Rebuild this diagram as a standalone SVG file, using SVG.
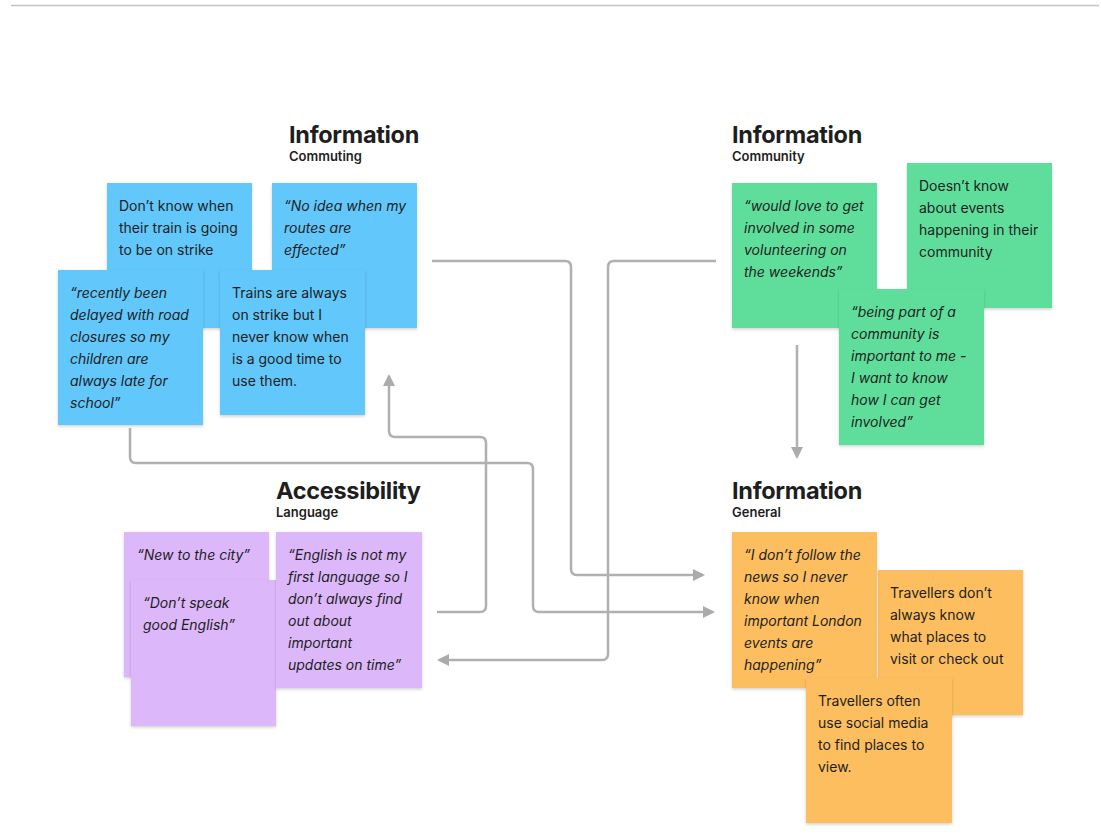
<svg xmlns="http://www.w3.org/2000/svg" width="1101" height="837" viewBox="0 0 1101 837">
<defs>
<filter id="sh" x="-10%" y="-10%" width="120%" height="125%">
<feDropShadow dx="0" dy="1.5" stdDeviation="1.5" flood-color="#000" flood-opacity="0.18"/>
</filter>
<marker id="ah" viewBox="0 0 12 12" refX="10" refY="6" markerWidth="12" markerHeight="12" markerUnits="userSpaceOnUse" orient="auto">
<path d="M0,0 L12,6 L0,12 Z" fill="#ABABAB"/>
</marker>
</defs>
<style>
.t{font-family:Inter,"Noto Sans","Liberation Sans",sans-serif;font-size:14px;fill:#1E1E1E}
.i{font-style:italic}
.h{font-family:Inter,"Liberation Sans",sans-serif;font-size:23.5px;font-weight:700;fill:#1E1E1E;letter-spacing:-0.3px}
.s{font-family:Inter,"Liberation Sans",sans-serif;font-size:13px;font-weight:600;fill:#1E1E1E}
.blue{fill:#62C7FA;filter:url(#sh)}
.green{fill:#5EDE9B;filter:url(#sh)}
.purple{fill:#DCB8FA;filter:url(#sh)}
.orange{fill:#FDBE5E;filter:url(#sh)}
.c{fill:none;stroke:#B0B0B0;stroke-width:2.5;stroke-linejoin:round}
</style>
<rect width="1101" height="837" fill="#FFFFFF"/>
<line x1="11" y1="5.5" x2="1099" y2="5.5" stroke="#C4C4C4" stroke-width="1.5"/>

<g id="titles">
<text class="h" x="289" y="143">Information</text>
<text class="s" x="289" y="161">Commuting</text>
<text class="h" x="732" y="143">Information</text>
<text class="s" x="732" y="161">Community</text>
<text class="h" x="276" y="499">Accessibility</text>
<text class="s" x="276" y="517">Language</text>
<text class="h" x="732" y="499">Information</text>
<text class="s" x="732" y="517">General</text>
</g>

<g id="connectors">
<path class="c" d="M432,261 H565 Q571,261 571,267 V569 Q571,575 577,575 H703" marker-end="url(#ah)"/>
<path class="c" d="M716,261 H614 Q608,261 608,267 V654 Q608,660 602,660 H439" marker-end="url(#ah)"/>
<path class="c" d="M130,428 V457 Q130,463 136,463 H527 Q533,463 533,469 V606 Q533,612 539,612 H713" marker-end="url(#ah)"/>
<path class="c" d="M437,612 H480 Q486,612 486,606 V443 Q486,437 480,437 H395 Q389,437 389,431 V376" marker-end="url(#ah)"/>
<path class="c" d="M797,345 V457" marker-end="url(#ah)"/>
</g>

<g id="note-a"><rect class="blue" x="107" y="183" width="145" height="145"/>
<text class="t" x="119" y="211">Don’t know when</text><text class="t" x="119" y="233">their train is going</text><text class="t" x="119" y="255">to be on strike</text></g>
<g id="note-b"><rect class="blue" x="272" y="183" width="145" height="145"/>
<text class="t i" x="284" y="211">“No idea when my</text><text class="t i" x="284" y="233">routes are</text><text class="t i" x="284" y="255">effected”</text></g>
<g id="note-c"><rect class="blue" x="58" y="270" width="145" height="155"/>
<text class="t i" x="70" y="298">“recently been</text><text class="t i" x="70" y="320">delayed with road</text><text class="t i" x="70" y="342">closures so my</text><text class="t i" x="70" y="364">children are</text><text class="t i" x="70" y="386">always late for</text><text class="t i" x="70" y="408">school”</text></g>
<g id="note-d"><rect class="blue" x="220" y="270" width="145" height="145"/>
<text class="t" x="232" y="298">Trains are always</text><text class="t" x="232" y="320">on strike but I</text><text class="t" x="232" y="342">never know when</text><text class="t" x="232" y="364">is a good time to</text><text class="t" x="232" y="386">use them.</text></g>

<g id="note-e"><rect class="green" x="732" y="183" width="145" height="145"/>
<text class="t i" x="744" y="211">“would love to get</text><text class="t i" x="744" y="233">involved in some</text><text class="t i" x="744" y="255">volunteering on</text><text class="t i" x="744" y="277">the weekends”</text></g>
<g id="note-f"><rect class="green" x="907" y="163" width="145" height="145"/>
<text class="t" x="919" y="191">Doesn’t know</text><text class="t" x="919" y="213">about events</text><text class="t" x="919" y="235">happening in their</text><text class="t" x="919" y="257">community</text></g>
<g id="note-g"><rect class="green" x="839" y="289" width="145" height="156"/>
<text class="t i" x="851" y="317">“being part of a</text><text class="t i" x="851" y="339">community is</text><text class="t i" x="851" y="361">important to me -</text><text class="t i" x="851" y="383">I want to know</text><text class="t i" x="851" y="405">how I can get</text><text class="t i" x="851" y="427">involved”</text></g>

<g id="note-h"><rect class="purple" x="124" y="532" width="145" height="145"/>
<text class="t i" x="137" y="560">“New to the city”</text></g>
<g id="note-i"><rect class="purple" x="131" y="580" width="145" height="146"/>
<text class="t i" x="143" y="608">“Don’t speak</text><text class="t i" x="143" y="630">good English”</text></g>
<g id="note-j"><rect class="purple" x="276" y="532" width="146" height="156"/>
<text class="t i" x="288" y="560">“English is not my</text><text class="t i" x="288" y="582">first language so I</text><text class="t i" x="288" y="604">don’t always find</text><text class="t i" x="288" y="626">out about</text><text class="t i" x="288" y="648">important</text><text class="t i" x="288" y="670">updates on time”</text></g>

<g id="note-l"><rect class="orange" x="878" y="570" width="145" height="145"/>
<text class="t" x="890" y="598">Travellers don’t</text><text class="t" x="890" y="620">always know</text><text class="t" x="890" y="642">what places to</text><text class="t" x="890" y="664">visit or check out</text></g>
<g id="note-k"><rect class="orange" x="732" y="532" width="145" height="156"/>
<text class="t i" x="744" y="560">“I don’t follow the</text><text class="t i" x="744" y="582">news so I never</text><text class="t i" x="744" y="604">know when</text><text class="t i" x="744" y="626">important London</text><text class="t i" x="744" y="648">events are</text><text class="t i" x="744" y="670">happening”</text></g>
<g id="note-m"><rect class="orange" x="806" y="678" width="146" height="145"/>
<text class="t" x="818" y="706">Travellers often</text><text class="t" x="818" y="728">use social media</text><text class="t" x="818" y="750">to find places to</text><text class="t" x="818" y="772">view.</text></g>
</svg>
